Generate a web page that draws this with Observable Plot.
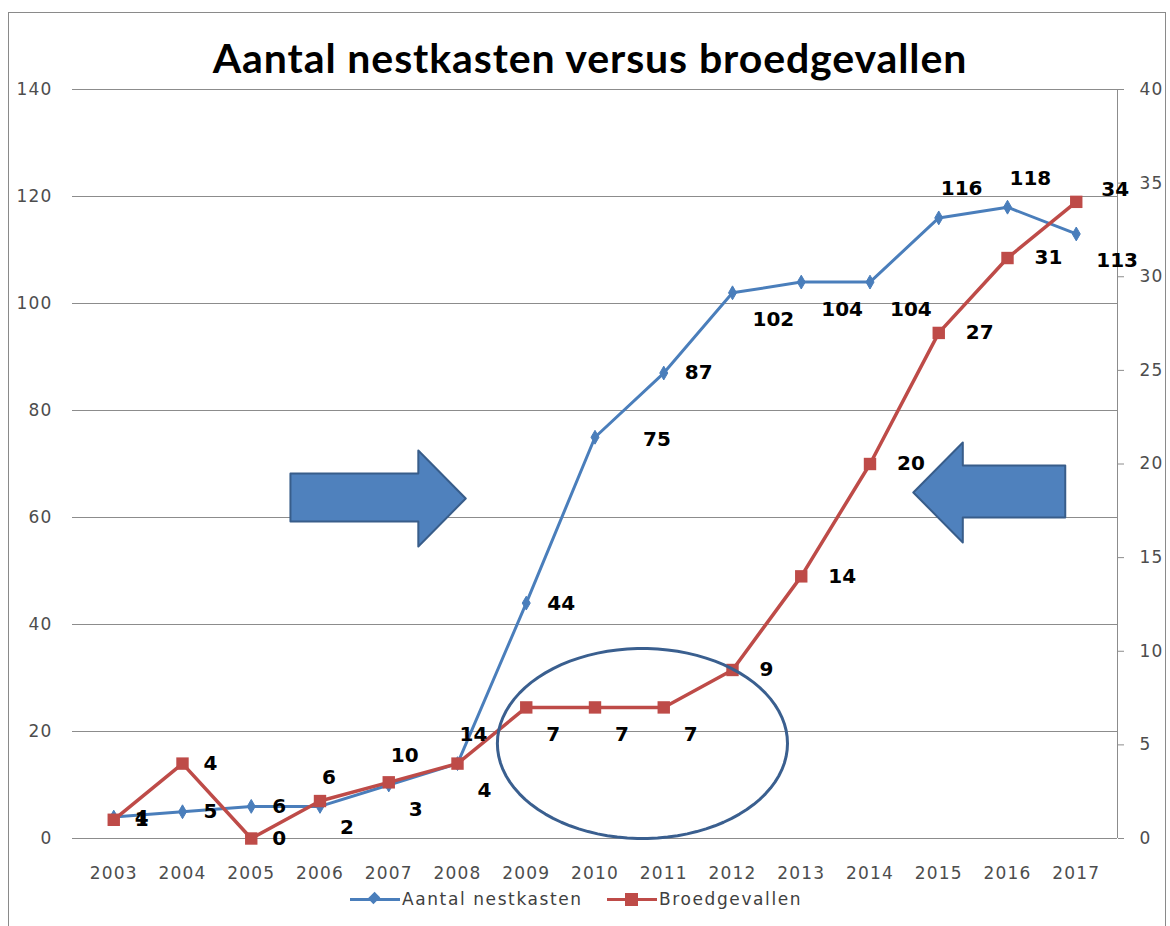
<!DOCTYPE html>
<html>
<head>
<meta charset="utf-8">
<script src="https://cdn.jsdelivr.net/npm/d3@7"></script>
<script src="https://cdn.jsdelivr.net/npm/@observablehq/plot@0.6"></script>
<style>
  body { margin: 0; background: #fff; width: 1170px; height: 926px; overflow: hidden; position: relative; font-family: "DejaVu Sans", sans-serif; }
  #frame { position: absolute; left: 8px; top: 12px; width: 1158px; height: 940px; border: 1px solid #8a8a8a; box-sizing: border-box; }
  #title { position: absolute; left: 0; top: 33px; width: 1180px; text-align: center; font-family: Lato, sans-serif; font-weight: 700; font-size: 41px; letter-spacing: 0.9px; color: #000; line-height: 50px; }
  #chart { position: absolute; left: 0; top: 80px; }
  #legend { position: absolute; left: 0; top: 886px; width: 1170px; height: 26px; font-family: "DejaVu Sans", sans-serif; font-size: 17px; color: #404040; letter-spacing: 1.6px; }
  .item { position: absolute; top: 0; height: 26px; line-height: 26px; white-space: nowrap; }
  .sw { position: absolute; top: 12px; height: 3px; width: 50px; }
  .mk { position: absolute; }
  .lbl { position: absolute; top: 0; }
  g[aria-label="x-axis tick label"] text, g[aria-label="y-axis tick label"] text { letter-spacing: 1.2px; }
</style>
</head>
<body>
<div id="frame"></div>
<div id="title">Aantal nestkasten versus broedgevallen</div>
<div id="chart"></div>
<div id="legend"></div>
<script>
// ---- data ----
const years = [2003, 2004, 2005, 2006, 2007, 2008, 2009, 2010, 2011, 2012, 2013, 2014, 2015, 2016, 2017];
const nestkasten = [4, 5, 6, 6, 10, 14, 44, 75, 87, 102, 104, 104, 116, 118, 113];
const broedgevallen = [1, 4, 0, 2, 3, 4, 7, 7, 7, 9, 14, 20, 27, 31, 34];
const leftTicks = [0, 20, 40, 60, 80, 100, 120, 140];
const rightTicks = [0, 5, 10, 15, 20, 25, 30, 35, 40];
const seriesNames = ["Aantal nestkasten", "Broedgevallen"];
// label placement keywords (r = right, r2 = further right, rr = far right, a = above, ar = above right, br = below right)
const nestLabelPlace = ["r", "r", "r", "a", "a", "a", "r", "rr", "r", "br", "br", "br", "a", "a", "br"];
const broedLabelPlace = ["r", "r", "r", "br", "br", "br", "br", "br", "br", "r2", "r2", "r2", "r2", "r2", "ar"];
// annotations in data units (x = year, y = left axis)
const rightArrow = [[2005.57, 68.22], [2007.43, 68.22], [2007.43, 72.52], [2008.12, 63.55], [2007.43, 54.58], [2007.43, 59.25], [2005.57, 59.25]];
const leftArrow = [[2014.63, 64.67], [2015.35, 74.02], [2015.35, 69.72], [2016.84, 69.72], [2016.84, 60.0], [2015.35, 60.0], [2015.35, 55.33]];
const ellipseCenter = [2010.69, 17.76];
const ellipseRadii = [2.11, 17.76];

// ---- build ----
const ratio = 140 / 40;
const blue = "#4a7ebb", red = "#be4b48";
const nestData = years.map((year, i) => ({year, value: nestkasten[i], label: String(nestkasten[i]), place: nestLabelPlace[i]}));
const broedData = years.map((year, i) => ({year, value: broedgevallen[i] * ratio, label: String(broedgevallen[i]), place: broedLabelPlace[i]}));
const offsets = {r: {dx: 21, dy: 0}, r2: {dx: 27, dy: 0}, rr: {dx: 48, dy: 2}, a: {dx: 2, dy: -29}, ar: {dx: 25, dy: -12}, br: {dx: 20, dy: 27}};
const ellipse = d3.range(0, 361, 4).map(a => [ellipseCenter[0] + ellipseRadii[0] * Math.cos(a * Math.PI / 180), ellipseCenter[1] + ellipseRadii[1] * Math.sin(a * Math.PI / 180)]);

function labels(data) {
  return Object.keys(offsets).map(k => Plot.text(data, {
    filter: d => d.place === k, x: "year", y: "value", text: "label",
    dx: offsets[k].dx, dy: offsets[k].dy, textAnchor: "start",
    fontFamily: "DejaVu Sans", fontWeight: "bold", fontSize: 20, fill: "#000"
  }));
}

const chart = Plot.plot({
  width: 1170, height: 806,
  marginLeft: 72, marginRight: 53, marginTop: 9, marginBottom: 48,
  x: {type: "linear", domain: [2002.4, 2017.6]},
  y: {domain: [0, 140]},
  style: {fontFamily: "DejaVu Sans", fontSize: "17px", color: "#4d4d4d", background: "transparent", overflow: "visible"},
  marks: [
    Plot.gridY(leftTicks, {stroke: "#8c8c8c", strokeOpacity: 1}),
    Plot.ruleX([2017.6], {stroke: "#8c8c8c"}),
    Plot.axisY({ticks: leftTicks, tickSize: 0, tickPadding: 20, label: null}),
    Plot.axisY({anchor: "right", ticks: rightTicks.map(t => t * ratio), tickFormat: d => String(Math.round(d / ratio)), tickSize: 6, tickPadding: 16, stroke: "#8c8c8c", label: null}),
    Plot.axisX({ticks: years, tickFormat: d => String(d), tickSize: 0, tickPadding: 28, label: null}),
    Plot.line(rightArrow, {x: d => d[0], y: d => d[1], curve: "linear-closed", fill: "#4f81bd", stroke: "#385d8a", strokeWidth: 2}),
    Plot.line(leftArrow, {x: d => d[0], y: d => d[1], curve: "linear-closed", fill: "#4f81bd", stroke: "#385d8a", strokeWidth: 2}),
    Plot.line(nestData, {x: "year", y: "value", stroke: blue, strokeWidth: 3}),
    Plot.dot(nestData, {x: "year", y: "value", symbol: "diamond", r: 4.2, fill: blue, stroke: blue, strokeWidth: 1}),
    Plot.line(broedData, {x: "year", y: "value", stroke: red, strokeWidth: 3.5}),
    Plot.dot(broedData, {x: "year", y: "value", symbol: "square", r: 7, fill: red}),
    Plot.line(ellipse, {x: d => d[0], y: d => d[1], curve: "linear-closed", stroke: "#3a5f8f", strokeWidth: 3}),
    ...labels(nestData),
    ...labels(broedData)
  ]
});
document.getElementById("chart").appendChild(chart);

// legend
const legend = document.getElementById("legend");
[[350, blue, "diamond"], [607, red, "square"]].forEach(([left, color, shape], i) => {
  const item = document.createElement("div");
  item.className = "item";
  item.style.left = left + "px";
  item.innerHTML = `<span class="sw" style="left:0;background:${color}"></span>` +
    (shape === "diamond"
      ? `<span class="mk" style="left:20px;top:8px;width:8px;height:8px;background:${color};transform:rotate(45deg) scaleY(1.2)"></span>`
      : `<span class="mk" style="left:18px;top:7px;width:13px;height:13px;background:${color}"></span>`) +
    `<span class="lbl" style="left:52px">${seriesNames[i]}</span>`;
  legend.appendChild(item);
});
</script>
</body>
</html>
